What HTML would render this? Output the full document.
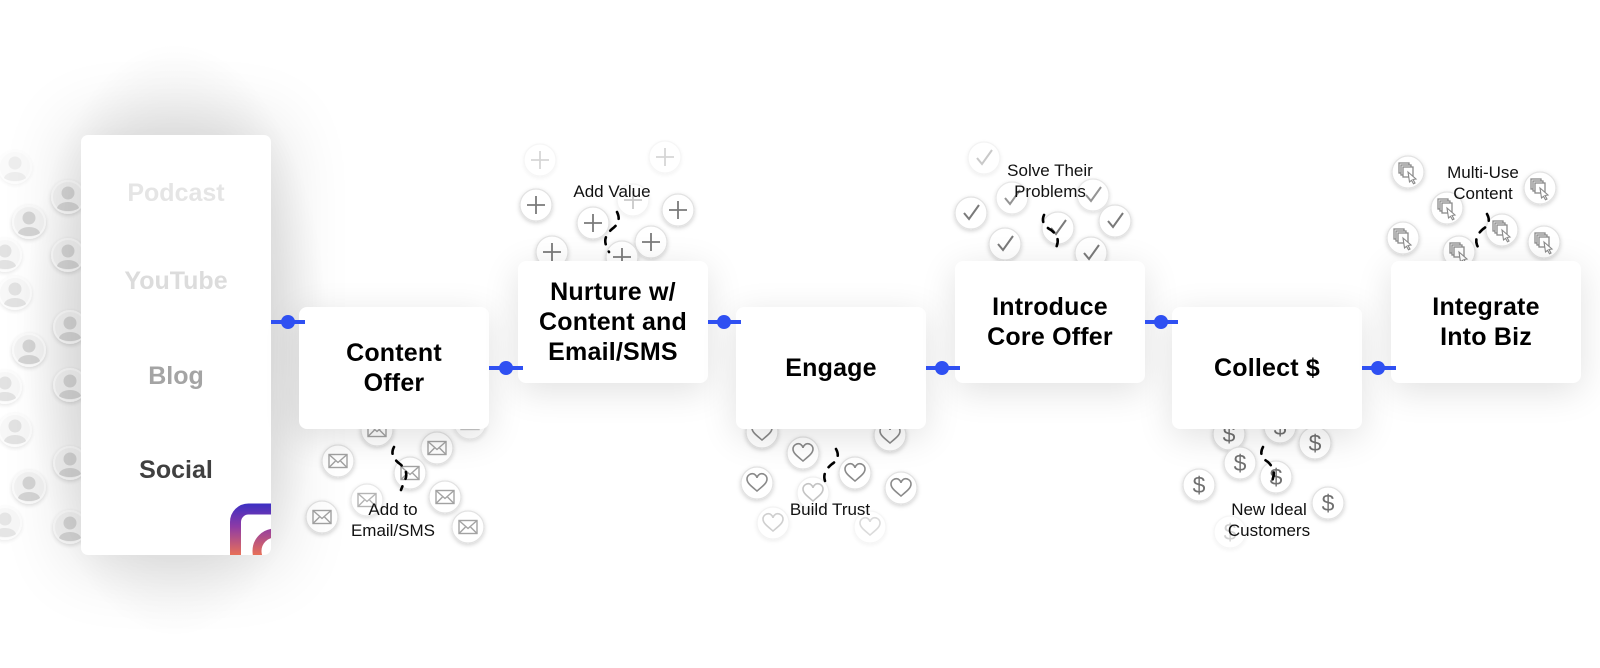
<!DOCTYPE html>
<html><head><meta charset="utf-8">
<style>
html,body{margin:0;padding:0;background:#fff;}
body{width:1600px;height:668px;position:relative;overflow:hidden;font-family:"Liberation Sans",sans-serif;}
#icons{position:absolute;left:0;top:0;z-index:1}
.halo{position:absolute;left:20px;top:40px;width:310px;height:600px;border-radius:50%;background:radial-gradient(ellipse at center, rgba(0,0,0,0.12) 0%, rgba(0,0,0,0.07) 45%, rgba(0,0,0,0) 70%);z-index:0}
.card{position:absolute;left:81px;top:135px;width:190px;height:420px;background:#fff;border-radius:7px;box-shadow:0 0 70px 12px rgba(0,0,0,0.12);z-index:2;overflow:hidden}
.card .t{position:absolute;left:0;width:190px;text-align:center;font-weight:bold;font-size:25px;line-height:30px}
.box{position:absolute;width:190px;height:122px;background:#fff;border-radius:8px;box-shadow:0 8px 36px rgba(0,0,0,0.12);z-index:2;display:flex;align-items:center;justify-content:center;text-align:center;font-weight:bold;font-size:25px;line-height:30px;letter-spacing:0.2px;color:#000}
#over{position:absolute;left:0;top:0;z-index:3}
</style></head><body>

<div class="halo"></div>

<svg id="icons" width="1600" height="668" viewBox="0 0 1600 668">
<defs>
<filter id="sh" x="-50%" y="-50%" width="200%" height="200%"><feDropShadow dx="0" dy="1.5" stdDeviation="2" flood-color="#000" flood-opacity="0.18"/></filter>
<g id="c"><circle r="16" fill="#fff" stroke="#e2e2e2" stroke-width="1.2" filter="url(#sh)"/></g>
<g id="env"><use href="#c"/><g fill="none" stroke="#a2a2a2" stroke-width="1.4"><rect x="-9" y="-6.5" width="18" height="13"/><polyline points="-9,-6.5 0,1.5 9,-6.5"/><line x1="-9" y1="6.5" x2="-2.5" y2="0"/><line x1="9" y1="6.5" x2="2.5" y2="0"/></g></g>
<g id="plus"><use href="#c"/><path d="M-9,0H9M0,-9V9" stroke="#7a7a7a" stroke-width="1.8" fill="none"/></g>
<g id="heart"><use href="#c"/><path d="M0,8 C-6,3 -10,0 -10,-4 C-10,-8 -6,-10 -3,-9 C-1,-8 0,-6 0,-5 C0,-6 1,-8 3,-9 C6,-10 10,-8 10,-4 C10,0 6,3 0,8Z" stroke="#8a8a8a" stroke-width="1.6" fill="none"/></g>
<g id="chk"><use href="#c"/><polyline points="-7,0 -2,6 8,-8" stroke="#7a7a7a" stroke-width="2" fill="none"/></g>
<g id="dol"><use href="#c"/><text x="0" y="8" text-anchor="middle" font-family="Liberation Sans, sans-serif" font-size="23" fill="#707070">$</text></g>
<g id="mul"><use href="#c"/><g fill="#fff" stroke="#8a8a8a" stroke-width="1.3"><rect x="-9" y="-9" width="10" height="10"/><rect x="-7" y="-7" width="10" height="10"/><rect x="-5" y="-5" width="10" height="10"/></g><path d="M0,0 L8,7 L5,7.5 L7,11 L5.5,11.8 L3.5,8.3 L1.5,10Z" fill="#fff" stroke="#8a8a8a" stroke-width="1.1"/></g>
<g id="av"><circle r="16" fill="#f0f0f0" stroke="#fafafa" stroke-width="2" filter="url(#sh)"/><circle cx="0" cy="-4" r="6.5" fill="#cacaca"/><path d="M-11,11 C-9,3 9,3 11,11 C6,15 -6,15 -11,11Z" fill="#cacaca"/></g>
</defs>

<!-- left avatars -->
<g opacity="0.8">
<use href="#av" x="15" y="167" opacity="0.4"/>
<use href="#av" x="68" y="197"/>
<use href="#av" x="29" y="222"/>
<use href="#av" x="68" y="255"/>
<use href="#av" x="5" y="255" opacity="0.7"/>
<use href="#av" x="15" y="293" opacity="0.7"/>
<use href="#av" x="70" y="327"/>
<use href="#av" x="29" y="350"/>
<use href="#av" x="5" y="387" opacity="0.7"/>
<use href="#av" x="70" y="385"/>
<use href="#av" x="15" y="430" opacity="0.7"/>
<use href="#av" x="70" y="463"/>
<use href="#av" x="29" y="487"/>
<use href="#av" x="5" y="523" opacity="0.6"/>
<use href="#av" x="70" y="527"/>
</g>

<!-- envelopes -->
<use href="#env" x="377" y="430"/>
<use href="#env" x="470" y="423" opacity="0.6"/>
<use href="#env" x="338" y="461"/>
<use href="#env" x="437" y="448"/>
<use href="#env" x="410" y="473"/>
<use href="#env" x="367" y="500" opacity="0.8"/>
<use href="#env" x="445" y="497"/>
<use href="#env" x="322" y="517"/>
<use href="#env" x="468" y="527"/>

<!-- plus -->
<use href="#plus" x="540" y="160" opacity="0.3"/>
<use href="#plus" x="665" y="157" opacity="0.3"/>
<use href="#plus" x="633" y="200" opacity="0.4"/>
<use href="#plus" x="536" y="205"/>
<use href="#plus" x="593" y="223"/>
<use href="#plus" x="678" y="210"/>
<use href="#plus" x="651" y="242"/>
<use href="#plus" x="552" y="252"/>
<use href="#plus" x="622" y="257"/>

<!-- hearts -->
<use href="#heart" x="762" y="432"/>
<use href="#heart" x="890" y="435"/>
<use href="#heart" x="803" y="453"/>
<use href="#heart" x="855" y="473"/>
<use href="#heart" x="757" y="483"/>
<use href="#heart" x="901" y="488"/>
<use href="#heart" x="813" y="493" opacity="0.5"/>
<use href="#heart" x="773" y="523" opacity="0.4"/>
<use href="#heart" x="870" y="527" opacity="0.3"/>

<!-- checks -->
<use href="#chk" x="984" y="158" opacity="0.4"/>
<use href="#chk" x="1093" y="195" opacity="0.8"/>
<use href="#chk" x="1012" y="198" opacity="0.8"/>
<use href="#chk" x="971" y="213"/>
<use href="#chk" x="1115" y="221"/>
<use href="#chk" x="1058" y="228"/>
<use href="#chk" x="1005" y="244"/>
<use href="#chk" x="1091" y="253"/>

<!-- dollars -->
<use href="#dol" x="1280" y="427"/>
<use href="#dol" x="1229" y="434"/>
<use href="#dol" x="1315" y="443"/>
<use href="#dol" x="1240" y="463"/>
<use href="#dol" x="1276" y="477"/>
<use href="#dol" x="1199" y="485"/>
<use href="#dol" x="1328" y="503"/>
<use href="#dol" x="1230" y="532" opacity="0.3"/>

<!-- multi -->
<use href="#mul" x="1408" y="172"/>
<use href="#mul" x="1540" y="188"/>
<use href="#mul" x="1447" y="208"/>
<use href="#mul" x="1502" y="230"/>
<use href="#mul" x="1403" y="238"/>
<use href="#mul" x="1544" y="242"/>
<use href="#mul" x="1459" y="252"/>
</svg>

<div class="card">
  <div class="t" style="top:43px;color:#e5e5e5">Podcast</div>
  <div class="t" style="top:131px;color:#dcdcdc">YouTube</div>
  <div class="t" style="top:226px;color:#a4a4a4">Blog</div>
  <div class="t" style="top:320px;color:#404040">Social</div>
  <svg style="position:absolute;left:0;top:0" width="190" height="420">
    <defs><linearGradient id="ig" gradientUnits="userSpaceOnUse" x1="0" y1="368" x2="0" y2="420">
      <stop offset="0" stop-color="#3a2fc4"/><stop offset="0.45" stop-color="#8d3aa6"/><stop offset="1" stop-color="#e87058"/></linearGradient></defs>
    <rect x="154.5" y="374" width="70" height="70" rx="13" fill="none" stroke="url(#ig)" stroke-width="11"/>
    <circle cx="194" cy="416" r="18" fill="none" stroke="url(#ig)" stroke-width="9"/>
  </svg>
</div>

<div class="box" style="left:299px;top:307px">Content<br>Offer</div>
<div class="box" style="left:518px;top:261px">Nurture w/<br>Content and<br>Email/SMS</div>
<div class="box" style="left:736px;top:307px">Engage</div>
<div class="box" style="left:955px;top:261px">Introduce<br>Core Offer</div>
<div class="box" style="left:1172px;top:307px">Collect $</div>
<div class="box" style="left:1391px;top:261px">Integrate<br>Into Biz</div>

<svg id="over" width="1600" height="668" viewBox="0 0 1600 668">
<g stroke="#2f50f2" stroke-width="4">
<line x1="271" y1="322" x2="305" y2="322"/>
<line x1="489" y1="368" x2="523" y2="368"/>
<line x1="708" y1="322" x2="741" y2="322"/>
<line x1="926" y1="368" x2="960" y2="368"/>
<line x1="1145" y1="322" x2="1178" y2="322"/>
<line x1="1362" y1="368" x2="1396" y2="368"/>
</g>
<g fill="#2f50f2">
<circle cx="288" cy="322" r="7"/>
<circle cx="506" cy="368" r="7"/>
<circle cx="724" cy="322" r="7"/>
<circle cx="942" cy="368" r="7"/>
<circle cx="1161" cy="322" r="7"/>
<circle cx="1378" cy="368" r="7"/>
</g>
<g fill="none" stroke="#000" stroke-width="2.6" stroke-dasharray="7 8" stroke-linecap="round">
<path d="M394,447 Q389,456 400,464 Q410,472 404,482 L401,490"/>
<path d="M617,212 Q622,222 612,229 Q603,237 606,245 L609,252"/>
<path d="M836,449 Q841,458 832,464 Q822,472 825,481 L828,488"/>
<path d="M1044,215 Q1040,224 1051,230 Q1060,237 1057,245 L1055,252"/>
<path d="M1263,447 Q1258,456 1268,462 Q1276,470 1273,478 L1271,486"/>
<path d="M1487,214 Q1492,223 1483,229 Q1474,237 1477,245 L1480,252"/>
</g>
<g font-family="Liberation Sans, sans-serif" font-size="17" fill="#111" text-anchor="middle">
<text x="393" y="515">Add to</text>
<text x="393" y="536">Email/SMS</text>
<text x="612" y="197">Add Value</text>
<text x="830" y="515">Build Trust</text>
<text x="1050" y="176">Solve Their</text>
<text x="1050" y="197">Problems</text>
<text x="1269" y="515">New Ideal</text>
<text x="1269" y="536">Customers</text>
<text x="1483" y="178">Multi-Use</text>
<text x="1483" y="199">Content</text>
</g>
</svg>
</body></html>
